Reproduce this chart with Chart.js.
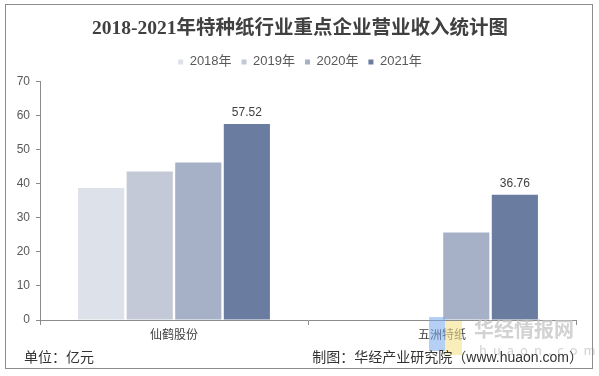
<!DOCTYPE html>
<html>
<head>
<meta charset="utf-8">
<script src="https://cdn.jsdelivr.net/npm/chart.js@4.4.1/dist/chart.umd.min.js"></script>
<style>
  html, body { margin: 0; padding: 0; background: #fff; }
  #wrap { position: relative; width: 599px; height: 376px; }
  #frame { position: absolute; left: 5px; top: 4px; width: 588px; height: 365px; border: 1px solid #8c8c8c; box-sizing: border-box; pointer-events: none; }
  .note { position: absolute; font-family: "Liberation Sans", "Noto Sans CJK SC", sans-serif; font-size: 14px; color: #333; line-height: 16px; }
  .wm { position: absolute; font-family: "Noto Sans CJK SC", sans-serif; color: rgba(195,195,195,0.75); font-weight: bold; }
  .logo { position: absolute; pointer-events: none; }
</style>
</head>
<body>
<div id="wrap">
  <canvas id="chart" width="599" height="376"></canvas>
  <div class="logo" style="left:429px; top:317px; width:16px; height:34px; background:rgba(120,170,235,0.55);"></div>
  <div class="logo" style="left:445px; top:321px; width:17px; height:34px; background:rgba(245,225,140,0.6);"></div>
  <div class="wm" style="left:474px; top:314px; font-size:20px; letter-spacing:0px;">华经情报网</div>
  <div class="wm" style="left:479px; top:340px; font-size:13px; letter-spacing:6px; font-weight:normal;">huaon.com</div>
  <div class="note" style="left:24px; top:349px;">单位：亿元</div>
  <div class="note" style="right:16px; top:349px;">制图：华经产业研究院（www.huaon.com）</div>
  <div id="frame"></div>
</div>
<script>
// datos del grafico
const categories = ['仙鹤股份', '五洲特纸']
const years = ['2018年', '2019年', '2020年', '2021年']
const values2018 = [38.7, null]
const values2019 = [43.6, null]
const values2020 = [46.2, 25.7]
const values2021 = [57.52, 36.76]
const colors = ['#dde1ea', '#c3c9d7', '#a6b1c7', '#6a7ca0']
const yTicks = [0, 10, 20, 30, 40, 50, 60, 70]

const series = [values2018, values2019, values2020, values2021]

// etiquetas encima de las barras de 2021
const valueLabels = {
    id: 'valueLabels',
    afterDatasetsDraw(chart) {
        const ctx = chart.ctx
        const idx = 3
        const meta = chart.getDatasetMeta(idx)
        ctx.save()
        ctx.font = '12px "Liberation Sans", Arial, sans-serif'
        ctx.fillStyle = '#404040'
        ctx.textAlign = 'center'
        ctx.textBaseline = 'bottom'
        meta.data.forEach(function (bar, i) {
            const v = chart.data.datasets[idx].data[i]
            if (v == null) return
            ctx.fillText(v.toFixed(2), bar.x, bar.y - 5)
        })
        ctx.restore()
    }
}

// ajuste del titulo y la leyenda (centrados en todo el lienzo)
const headerFix = {
    id: 'headerFix',
    beforeInit(chart) {
        const legend = chart.legend
        const origFit = legend.fit
        legend.fit = function () {
            origFit.call(this)
            this.height += 3
        }
    },
    afterLayout(chart) {
        const shift = 12
        chart.legend.left += shift
        chart.legend.right += shift
        chart.titleBlock.left += shift
        chart.titleBlock.right += shift
    }
}

const ctx = document.getElementById('chart')
new Chart(ctx, {
    type: 'bar',
    data: {
        labels: categories,
        datasets: years.map(function (y, i) {
            return {
                label: y,
                data: series[i],
                backgroundColor: colors[i],
                categoryPercentage: 0.725,
                barPercentage: 0.95
            }
        })
    },
    options: {
        responsive: false,
        animation: false,
        layout: { padding: { left: 0, right: 23, top: 0, bottom: 0 } },
        plugins: {
            title: {
                display: true,
                text: '2018-2021年特种纸行业重点企业营业收入统计图',
                color: '#404040',
                font: { family: '"Liberation Serif", "Noto Sans CJK SC", serif', size: 19.5, weight: 'bold' },
                padding: { top: 17, bottom: 5 }
            },
            legend: {
                display: true,
                labels: {
                    boxWidth: 5,
                    boxHeight: 5,
                    padding: 10,
                    color: '#595959',
                    font: { family: '"Liberation Sans", "Noto Sans CJK SC", sans-serif', size: 13 }
                }
            },
            tooltip: { enabled: false }
        },
        scales: {
            x: {
                grid: { display: true, drawOnChartArea: false, color: '#8c8c8c', tickLength: 5, offset: true },
                border: { color: '#8c8c8c' },
                ticks: {
                    color: '#404040',
                    padding: 3,
                    font: { family: '"Liberation Sans", "Noto Sans CJK SC", sans-serif', size: 12 }
                },
                afterFit: function (scale) { scale.height = 56 }
            },
            y: {
                min: 0,
                max: 70,
                afterBuildTicks: function (scale) { scale.ticks = yTicks.map(function (v) { return { value: v } }) },
                grid: { display: true, drawOnChartArea: false, color: '#8c8c8c', tickLength: 4 },
                border: { color: '#8c8c8c' },
                ticks: {
                    color: '#595959',
                    padding: 6,
                    font: { family: '"Liberation Sans", Arial, sans-serif', size: 12 }
                },
                afterFit: function (scale) { scale.width = 40 }
            }
        }
    },
    plugins: [valueLabels, headerFix]
});
</script>
</body>
</html>
